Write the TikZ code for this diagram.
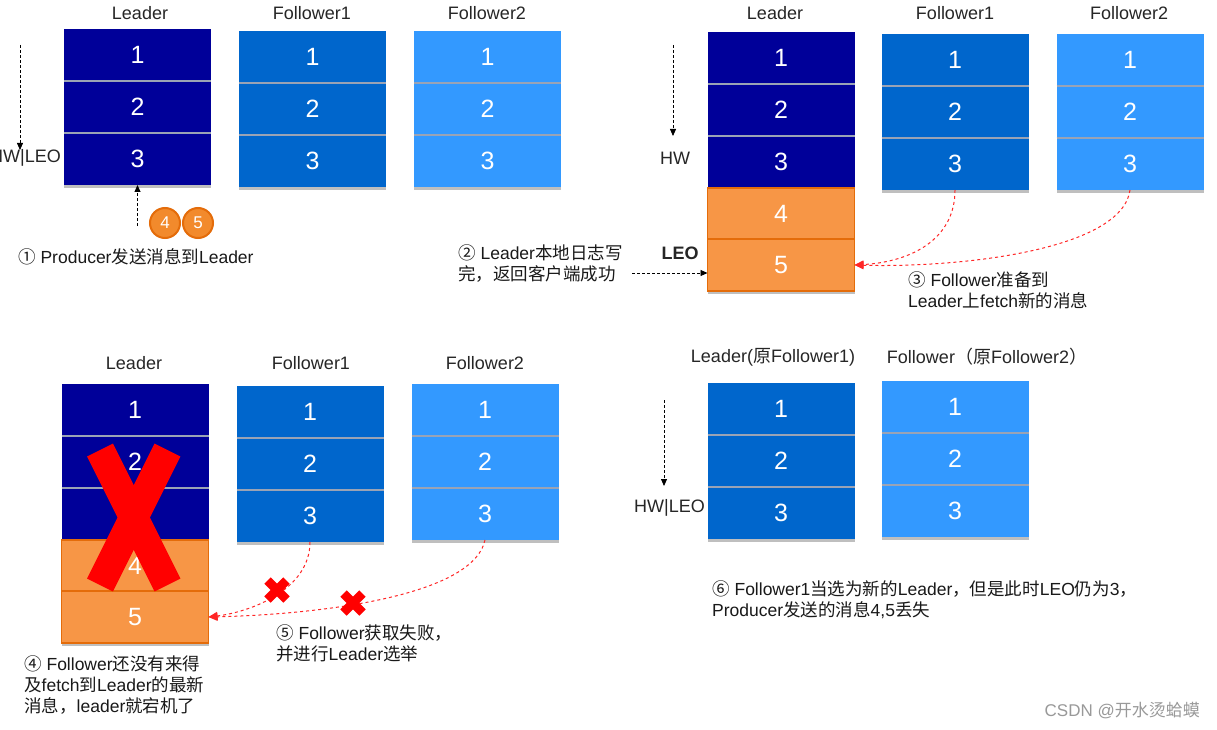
\documentclass[tikz,border=0pt]{standalone}
\usepackage{fontspec}
\setmainfont{Liberation Sans}
\newfontfamily\cjk{Noto Sans CJK SC}
\usetikzlibrary{arrows.meta,shadows,shapes.misc}
\newcommand{\zh}[1]{{\cjk #1}}
\definecolor{cnavy}{HTML}{000099}
\definecolor{cmid}{HTML}{0066CC}
\definecolor{clight}{HTML}{3399FF}
\definecolor{corange}{HTML}{F79646}
\definecolor{cobord}{HTML}{E46C0A}
\definecolor{ccoin}{HTML}{F28A2C}
\definecolor{csep}{HTML}{9AA3B5}
\tikzset{
  cell/.style={minimum width=147pt, minimum height=52pt, inner sep=0pt, outer sep=0pt,
    font=\fontsize{25}{25}\selectfont, text=white,
    drop shadow={shadow xshift=0pt, shadow yshift=-3pt, opacity=0.25, fill=black}},
  navy/.style={cell, fill=cnavy},
  mid/.style={cell, fill=cmid},
  light/.style={cell, fill=clight},
  orangecell/.style={cell, fill=corange, draw=cobord, line width=1.2pt},
  sep/.style={draw=csep, line width=1.3pt},
  title/.style={font=\fontsize{18}{18}\selectfont, text=black!85},
  capt/.style={font=\fontsize{17.5}{21}\selectfont, align=left, text=black!90, inner sep=0pt},
  blkarrow/.style={densely dashed, line width=0.8pt, -{Triangle[length=7pt,width=6pt]}},
  redarrow/.style={dashed, red!85!white, line width=1pt, -{Triangle[length=9pt,width=8pt]}},
  badmark/.style={cross out, draw=red, line width=9pt, minimum size=19pt, inner sep=0pt, outer sep=0pt},
  bigbar/.style={draw=red, line width=29pt, line cap=butt},
  coin/.style={circle, fill=ccoin, draw=cobord, line width=2pt, minimum size=30pt,
    inner sep=0pt, text=white, font=\fontsize{17}{17}\selectfont}
}
\newcommand{\kcol}[4]{%
  \node[#4] (#1a) at (#2,#3+26) {1};
  \node[#4] (#1b) at (#2,#3+78) {2};
  \node[#4] (#1c) at (#2,#3+130) {3};
  \draw[sep] (#1a.south west) -- (#1a.south east);
  \draw[sep] (#1b.south west) -- (#1b.south east);
}
\begin{document}
\begin{tikzpicture}[x=1pt,y=-1pt]
\useasboundingbox[fill=white] (0,0) rectangle (1217,730);

% ---------------- Panel 1 (top left)
\node[title] (p1l) at (140,13) {Leader};
\node[title] (p1f1) at (312,13) {Follower1};
\node[title] (p1f2) at (487,13) {Follower2};
\kcol{TL}{137.5}{29}{navy}
\kcol{TA}{312.5}{31}{mid}
\kcol{TB}{487.5}{31}{light}
\coordinate (hw1s) at (20,45);
\coordinate (hw1e) at (20,150);
\draw[blkarrow] (hw1s) -- (hw1e);
\node[title, anchor=east, inner sep=0pt] (hw1) at (61,158) {HW|LEO};
\coordinate (up1) at (137.5,226);
\draw[blkarrow] (up1) -- (TLc.south);
\node[coin] (m4) at (165,223) {4};
\node[coin] (m5) at (198,223) {5};
\node[capt, anchor=west] (c1) at (18,257) {\zh{①} Producer\zh{发送消息到}Leader};

% ---------------- Panel 2 (top right)
\node[title] (p2l) at (775,13) {Leader};
\node[title] (p2f1) at (955,13) {Follower1};
\node[title] (p2f2) at (1129,13) {Follower2};
\kcol{RL}{781}{32}{navy}
\node[orangecell] (RLd) at (781,214) {4};
\node[orangecell] (RLe) at (781,265) {5};
\kcol{RA}{955}{34}{mid}
\kcol{RB}{1130}{34}{light}
\coordinate (hw2s) at (673,45);
\coordinate (hw2e) at (673,136);
\draw[blkarrow] (hw2s) -- (hw2e);
\node[title] (hw2) at (675,158) {HW};
\node[title, font=\fontsize{18}{18}\selectfont\bfseries] (leo2) at (680,253) {LEO};
\node[capt, anchor=west] (c2) at (458,263.5) {\zh{②} Leader\zh{本地日志写}\\\zh{完，返回客户端成功}};
\coordinate (a2) at (632,273);
\draw[blkarrow] (a2) -- (a2 -| RLe.west);
\draw[redarrow] (RAc.south) .. controls (955,240) and (910,262) .. (RLe.east);
\draw[redarrow] (RBc.south) .. controls (1122,250) and (960,268) .. (RLe.east);
\node[capt, anchor=west] (c3) at (908,290) {\zh{③} Follower\zh{准备到}\\Leader\zh{上}fetch\zh{新的消息}};

% ---------------- Panel 3 (bottom left)
\node[title] (p3l) at (134,363) {Leader};
\node[title] (p3f1) at (311,363) {Follower1};
\node[title] (p3f2) at (485,363) {Follower2};
\kcol{BL}{135}{384}{navy}
\node[orangecell] (BLd) at (135,566) {4};
\node[orangecell] (BLe) at (135,617) {5};
\kcol{BA}{310}{386}{mid}
\kcol{BB}{485}{384}{light}
\draw[bigbar] (100,450) -- (167.5,585);
\draw[bigbar] (167.5,450) -- (100,585);
\draw[redarrow] (BAc.south) .. controls (310,590) and (250,612) .. (BLe.east);
\draw[redarrow] (BBc.south) .. controls (472,600) and (300,615) .. (BLe.east);
\node[badmark] (x1) at (277,590) {};
\node[badmark] (x2) at (353,603) {};
\node[capt, anchor=west] (c5) at (276,643.5) {\zh{⑤} Follower\zh{获取失败，}\\\zh{并进行}Leader\zh{选举}};
\node[capt, anchor=west] (c4) at (24,685.5) {\zh{④} Follower\zh{还没有来得}\\\zh{及}fetch\zh{到}Leader\zh{的最新}\\\zh{消息，}leader\zh{就宕机了}};

% ---------------- Panel 4 (bottom right)
\node[title] (p4l) at (773,357) {Leader(\zh{原}Follower1)};
\node[title] (p4f) at (987,357) {Follower\zh{（原}Follower2\zh{）}};
\kcol{NL}{781}{383}{mid}
\kcol{NF}{955}{381}{light}
\coordinate (hw4s) at (664,400);
\coordinate (hw4e) at (664,486);
\draw[blkarrow] (hw4s) -- (hw4e);
\node[title, anchor=east, inner sep=0pt] (hw4) at (705,508) {HW|LEO};
\node[capt, anchor=west] (c6) at (712,599.5) {\zh{⑥} Follower1\zh{当选为新的}Leader\zh{，但是此时}LEO\zh{仍为}3\zh{，}\\Producer\zh{发送的消息}4,5\zh{丢失}};

\node[anchor=east, inner sep=0pt, text=black!40, font=\fontsize{17}{17}\selectfont] (wm) at (1200,711) {CSDN @\zh{开水烫蛤蟆}};
\end{tikzpicture}
\end{document}
